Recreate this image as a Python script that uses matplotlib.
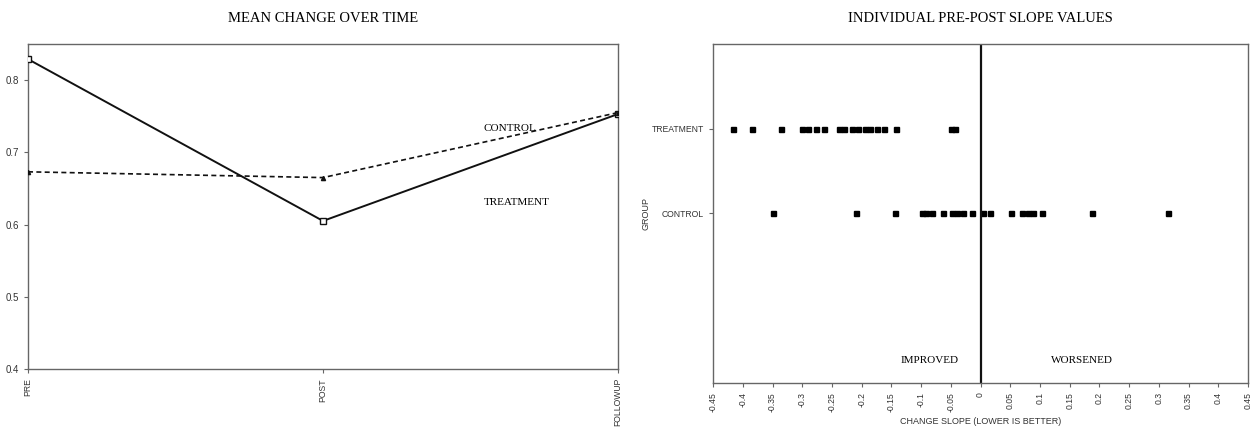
import numpy as np
import matplotlib
matplotlib.use('Agg')
import matplotlib.pyplot as plt

# left panel: mean change over time
times = ['PRE', 'POST', 'FOLLOWUP']
treatment_means = [0.829, 0.605, 0.753]
control_means = [0.673, 0.665, 0.755]

# right panel: individual pre-post slopes
groups = ['CONTROL', 'TREATMENT']
treatment_slopes = [-0.416, -0.384, -0.336, -0.301, -0.291, -0.277, -0.263, -0.238, -0.230,
                    -0.216, -0.206, -0.194, -0.186, -0.174, -0.162, -0.142, -0.050, -0.043]
control_slopes = [-0.350, -0.210, -0.144, -0.099, -0.091, -0.081, -0.063, -0.048, -0.040,
                  -0.030, -0.015, 0.004, 0.016, 0.052, 0.069, 0.080, 0.088, 0.103, 0.187, 0.315]
slope_ticks = [-0.45, -0.4, -0.35, -0.3, -0.25, -0.2, -0.15, -0.1, -0.05, 0,
               0.05, 0.1, 0.15, 0.2, 0.25, 0.3, 0.35, 0.4, 0.45]

serif = 'Liberation Serif'
sans = 'Liberation Sans'
spine_col = '#666666'
tick_col = '#333333'

fig = plt.figure(figsize=(12.51, 4.30), dpi=100)
ax1 = fig.add_axes([0.0224, 0.1419, 0.4716, 0.7558])
ax2 = fig.add_axes([0.5700, 0.1093, 0.4276, 0.7884])

def style(ax):
    for s in ax.spines.values():
        s.set_color(spine_col)
        s.set_linewidth(1.0)
    ax.tick_params(axis='both', colors=spine_col, labelcolor=tick_col, labelsize=6.2,
                   length=3, width=0.8, top=False, right=False)
    for lbl in ax.get_xticklabels() + ax.get_yticklabels():
        lbl.set_family(sans)

# ---- left
x = np.arange(len(times))
ax1.plot(x, treatment_means, color='#111111', lw=1.4, ls='-', marker='s', ms=4,
         mfc='white', mec='#111111', mew=1.0, zorder=3)
ax1.plot(x, control_means, color='#111111', lw=1.2, ls=(0, (3, 2)), marker='^', ms=3,
         mfc='#111111', mec='#111111', zorder=3)
ax1.set_xlim(0, 2)
ax1.set_ylim(0.4, 0.85)
ax1.set_xticks(x)
ax1.set_xticklabels(times, rotation=90)
ax1.set_yticks([0.4, 0.5, 0.6, 0.7, 0.8])
ax1.set_yticklabels(['0.4', '0.5', '0.6', '0.7', '0.8'])
style(ax1)
ax1.tick_params(axis='y', labelsize=7)
ax1.text(1.634, 0.733, 'CONTROL', family=serif, fontsize=8, ha='center', va='center')
ax1.text(1.658, 0.630, 'TREATMENT', family=serif, fontsize=8, ha='center', va='center')
ax1.set_title('MEAN CHANGE OVER TIME', family=serif, fontsize=10.5, pad=16)

# ---- right
ypos = {'CONTROL': 1, 'TREATMENT': 2}
ax2.plot(treatment_slopes, [ypos['TREATMENT']] * len(treatment_slopes), ls='none',
         marker='s', ms=3.6, color='black')
ax2.plot(control_slopes, [ypos['CONTROL']] * len(control_slopes), ls='none',
         marker='s', ms=3.6, color='black')
ax2.axvline(0, color='#111111', lw=1.6)
ax2.set_xlim(-0.45, 0.45)
ax2.set_ylim(-1, 3)
ax2.set_xticks(slope_ticks)
ax2.set_xticklabels(['%g' % t for t in slope_ticks], rotation=90)
ax2.set_yticks([ypos[g] for g in groups])
ax2.set_yticklabels(groups)
style(ax2)
ax2.set_xlabel('CHANGE SLOPE (LOWER IS BETTER)', family=sans, fontsize=6.5, color=tick_col, labelpad=4)
ax2.set_ylabel('GROUP', family=sans, fontsize=6.5, color=tick_col, labelpad=1)
ax2.text(-0.085, -0.73, 'IMPROVED', family=serif, fontsize=8, ha='center', va='center')
ax2.text(0.171, -0.73, 'WORSENED', family=serif, fontsize=8, ha='center', va='center')
ax2.set_title('INDIVIDUAL PRE-POST SLOPE VALUES', family=serif, fontsize=10.5, pad=16)

plt.savefig('out.png', dpi=100)
